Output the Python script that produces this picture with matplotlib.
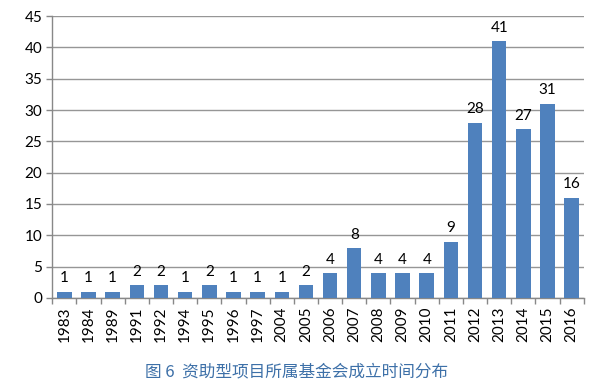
import matplotlib
matplotlib.use("Agg")
import matplotlib.pyplot as plt
import numpy as np

years = ["1983", "1984", "1989", "1991", "1992", "1994", "1995", "1996", "1997", "2004",
         "2005", "2006", "2007", "2008", "2009", "2010", "2011", "2012", "2013", "2014",
         "2015", "2016"]
counts = [1, 1, 1, 2, 2, 1, 2, 1, 1, 1, 2, 4, 8, 4, 4, 4, 9, 28, 41, 27, 31, 16]
yticks = [0, 5, 10, 15, 20, 25, 30, 35, 40, 45]
title = "图 6  资助型项目所属基金会成立时间分布"

plt.rcParams['font.family'] = ['Lato', 'Noto Sans CJK SC', 'DejaVu Sans']

fig = plt.figure(figsize=(6, 3.92), dpi=100)
ax = fig.add_axes([0.087, 0.240, 0.886, 0.719])

x = np.arange(len(years))
bars = ax.bar(x, counts, width=0.6, color="#4F81BD", zorder=3)

# etiquetas de datos
for xi, v in zip(x, counts):
    ax.text(xi, v + 1.0, str(v), ha="center", va="bottom", fontsize=11, color="#000000")

ax.set_xlim(-0.5, len(years) - 0.5)
ax.set_ylim(0, 45)
ax.set_yticks(yticks)
ax.set_yticklabels([str(t) for t in yticks], fontsize=11)
ax.set_xticks(x)
ax.set_xticklabels(years, rotation=90, fontsize=11)
ax.set_xticks(np.arange(-0.5, len(years), 1.0), minor=True)
ax.tick_params(axis="x", which="major", length=0, pad=6)
ax.tick_params(axis="x", which="minor", length=4, color="#888888", width=1)
ax.tick_params(axis="y", length=4, color="#888888", width=1, pad=3)

ax.grid(axis="y", color="#969696", linewidth=1, zorder=0)
for s in ["top", "right"]:
    ax.spines[s].set_visible(False)
ax.spines["left"].set_color("#888888")
ax.spines["bottom"].set_color("#888888")
ax.spines["left"].set_linewidth(1)
ax.spines["bottom"].set_linewidth(1)

fig.text(0.495, 0.052, title, ha="center", va="center", fontsize=12,
         color="#3D70A8", family=['Noto Sans CJK SC', 'DejaVu Sans'])

fig.savefig("out.png", dpi=100)
